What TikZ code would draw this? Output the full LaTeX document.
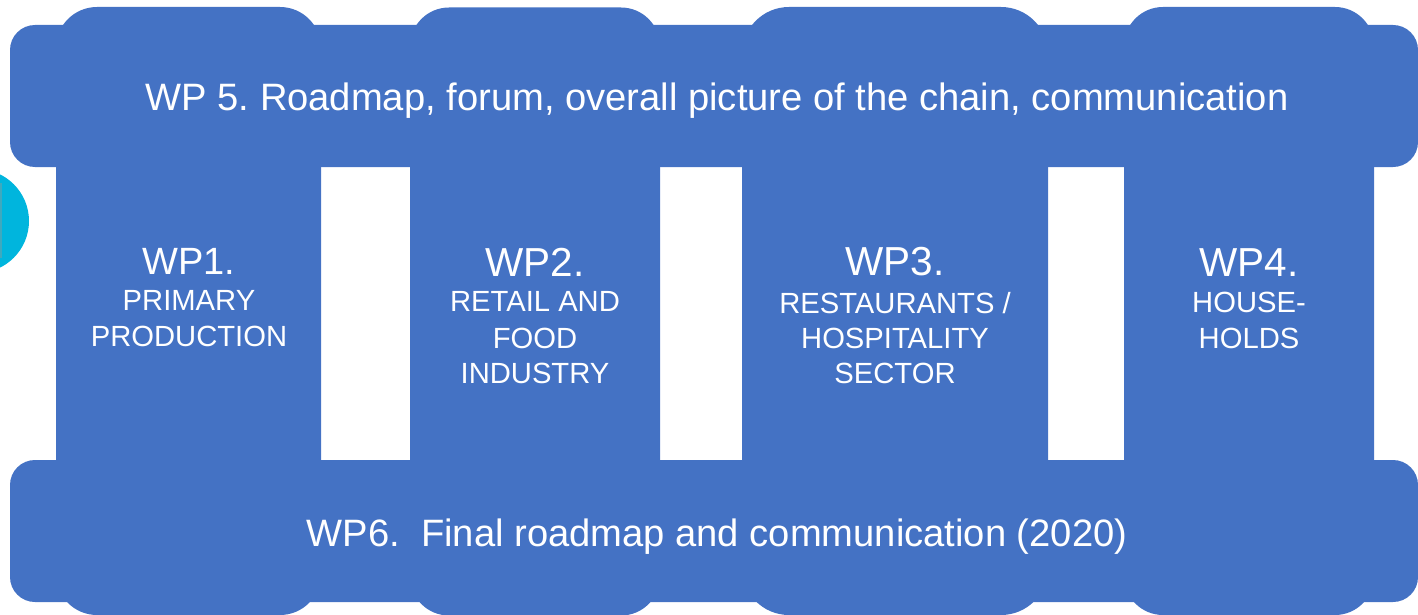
\documentclass[tikz,border=0pt]{standalone}
\usepackage{xcolor}
\usepackage{fontspec}
\setmainfont{Liberation Sans}
\frenchspacing
\definecolor{wpblue}{HTML}{4472C4}
\definecolor{logocyan}{HTML}{00B5DD}
\definecolor{logoedge}{HTML}{3FA9BE}
\newcommand{\wpbar}{\fontsize{38.15}{38}\selectfont}
\newcommand{\wphead}{\fontsize{38}{38}\selectfont}
\newcommand{\wpheadb}{\fontsize{40.5}{38}\selectfont}
\newcommand{\wpsub}{\fontsize{29.2}{36}\selectfont}
\begin{document}
\begin{tikzpicture}[
        x=1pt, y=-1pt,
        every node/.style={inner sep=0pt, outer sep=0pt, text=white},
        column/.style={fill=wpblue, minimum height=608pt, rounded corners=#1},
        bar/.style={fill=wpblue, minimum width=1408pt, minimum height=142pt, rounded corners=25pt},
        wplabel/.style={align=center},
    ]
        \useasboundingbox (0,0) rectangle (1418,615);
        \begin{scope}
            \clip (0,0) rectangle (1418,615);
            \fill[logocyan] (-23,221) circle (52);
            \fill[logoedge] (0,183) rectangle (1.5,258);
        \end{scope}
        \node[column=41pt, minimum width=265pt] (n1) at (188.5,311) {};
        \node[column=39pt, minimum width=250pt] (n2) at (535,311.5) {};
        \node[column=47pt, minimum width=306pt] (n3) at (895,311) {};
        \node[column=39pt, minimum width=250pt] (n4) at (1249,311) {};
        \node[bar] (n5) at (714,96) {};
        \node[bar] (n6) at (714,531) {};
        \node[wplabel] (n7) at (717,100.5) {\wpbar WP 5. Roadmap, forum, overall picture of the chain, communication};
        \node[wplabel] (n8) at (717,536.5) {\wpbar WP6.\ \ Final roadmap and communication (2020)};
        \node[wplabel] (n9) at (189,297.5) {\wphead WP1.\\[15pt]\wpsub PRIMARY\\[15pt]\wpsub PRODUCTION};
        \node[wplabel] (n10) at (535,316) {\wpheadb WP2.\\[14pt]\wpsub RETAIL AND\\[16pt]\wpsub FOOD\\[13pt]\wpsub INDUSTRY};
        \node[wplabel] (n11) at (895,315.5) {\wpheadb WP3.\\[15pt]\wpsub RESTAURANTS /\\[14pt]\wpsub HOSPITALITY\\[13pt]\wpsub SECTOR};
        \node[wplabel] (n12) at (1249,298.5) {\wpheadb WP4.\\[15pt]\wpsub HOUSE-\\[14pt]\wpsub HOLDS};
    \end{tikzpicture}
\end{document}
